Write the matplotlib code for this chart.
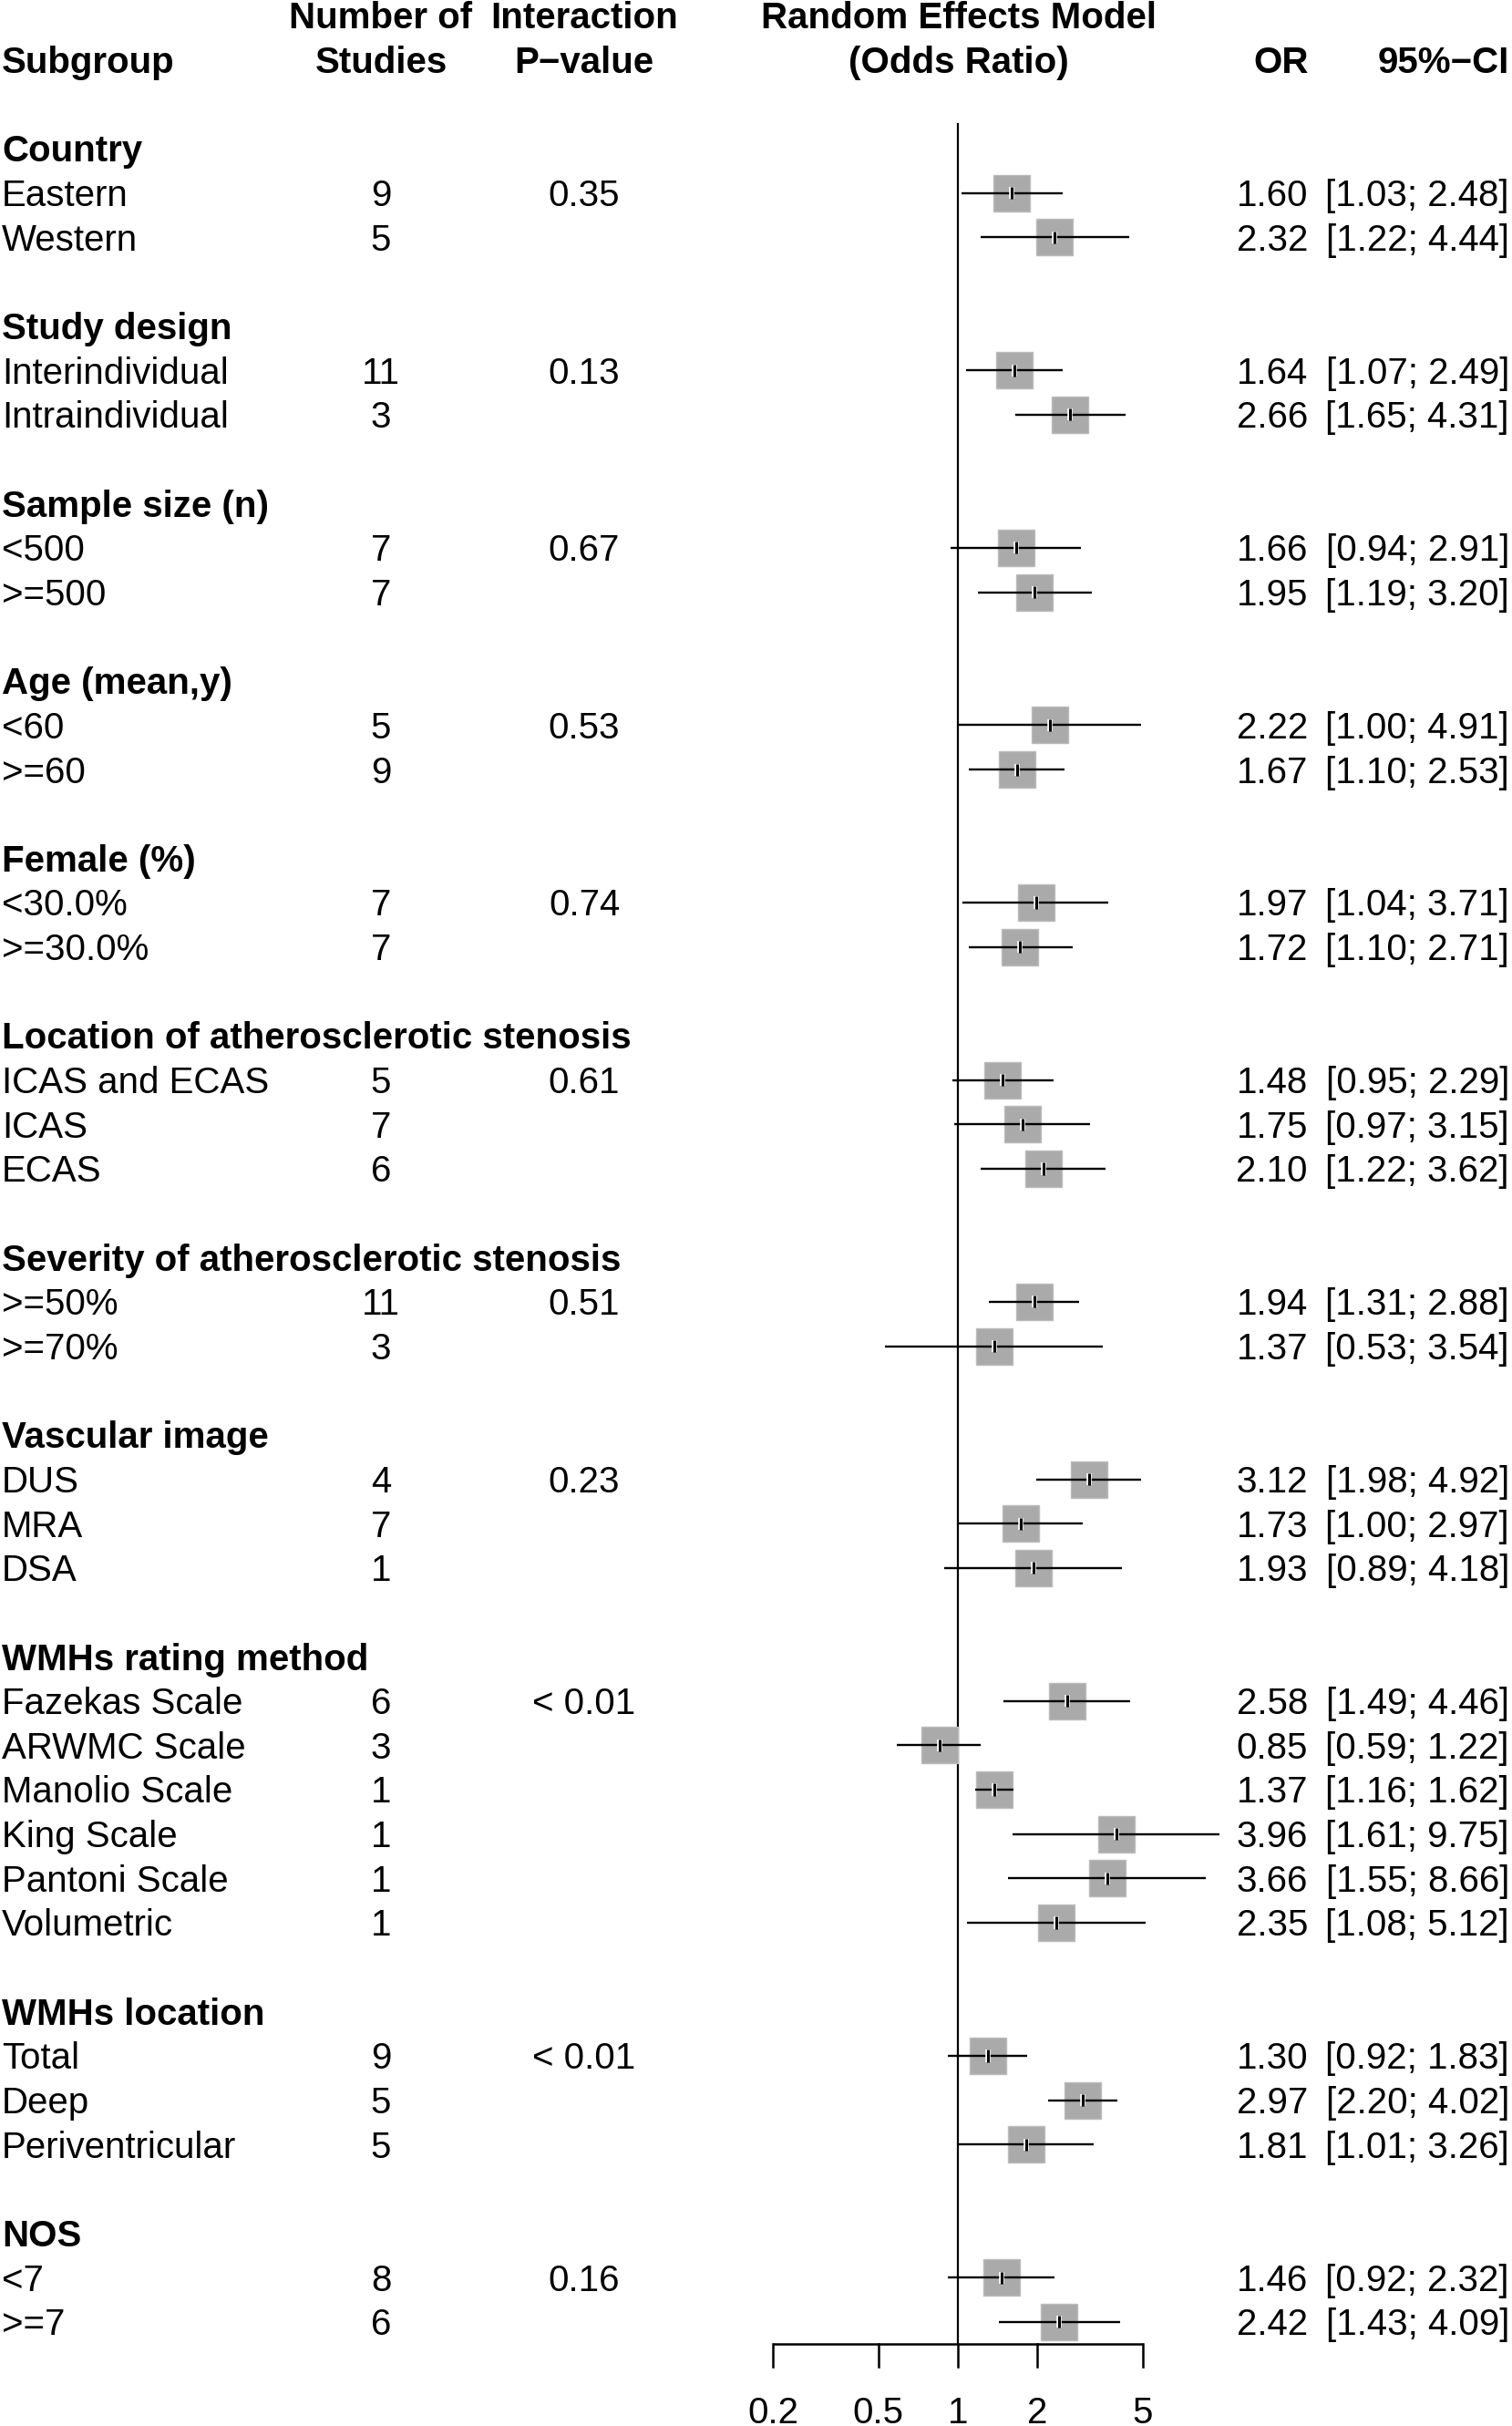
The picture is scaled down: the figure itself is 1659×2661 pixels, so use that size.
#!/usr/bin/env python3
import numpy as np
import matplotlib.pyplot as plt
import matplotlib.patheffects as pe

# ====== CONFIG ======
OUT_PATH = "out.png"
W_PX, H_PX = 1659, 2661
DPI = 100
FS = 29                   # font size (pt)
ROW0_PX = 163             # pixel y of first row (Country)
ROW_PX = 48.65            # pixel height of a row
X_LO_PX, X_HI_PX = 848, 1254   # pixel x of 0.2 and 5 on the log axis
FONT = ["Liberation Sans", "DejaVu Sans"]
# =====================

# -------- data --------
groups = [
    "Country", "Study design", "Sample size (n)", "Age (mean,y)", "Female (%)",
    "Location of atherosclerotic stenosis", "Severity of atherosclerotic stenosis",
    "Vascular image", "WMHs rating method", "WMHs location", "NOS",
]
group_pvalues = ["0.35", "0.13", "0.67", "0.53", "0.74", "0.61", "0.51",
                 "0.23", "< 0.01", "< 0.01", "0.16"]
subgroups = [
    ["Eastern", "Western"],
    ["Interindividual", "Intraindividual"],
    ["<500", ">=500"],
    ["<60", ">=60"],
    ["<30.0%", ">=30.0%"],
    ["ICAS and ECAS", "ICAS", "ECAS"],
    [">=50%", ">=70%"],
    ["DUS", "MRA", "DSA"],
    ["Fazekas Scale", "ARWMC Scale", "Manolio Scale", "King Scale",
     "Pantoni Scale", "Volumetric"],
    ["Total", "Deep", "Periventricular"],
    ["<7", ">=7"],
]
n_studies = [
    [9, 5], [11, 3], [7, 7], [5, 9], [7, 7], [5, 7, 6], [11, 3], [4, 7, 1],
    [6, 3, 1, 1, 1, 1], [9, 5, 5], [8, 6],
]
odds_ratio = [
    [1.60, 2.32], [1.64, 2.66], [1.66, 1.95], [2.22, 1.67], [1.97, 1.72],
    [1.48, 1.75, 2.10], [1.94, 1.37], [3.12, 1.73, 1.93],
    [2.58, 0.85, 1.37, 3.96, 3.66, 2.35], [1.30, 2.97, 1.81], [1.46, 2.42],
]
ci_lower = [
    [1.03, 1.22], [1.07, 1.65], [0.94, 1.19], [1.00, 1.10], [1.04, 1.10],
    [0.95, 0.97, 1.22], [1.31, 0.53], [1.98, 1.00, 0.89],
    [1.49, 0.59, 1.16, 1.61, 1.55, 1.08], [0.92, 2.20, 1.01], [0.92, 1.43],
]
ci_upper = [
    [2.48, 4.44], [2.49, 4.31], [2.91, 3.20], [4.91, 2.53], [3.71, 2.71],
    [2.29, 3.15, 3.62], [2.88, 3.54], [4.92, 2.97, 4.18],
    [4.46, 1.22, 1.62, 9.75, 8.66, 5.12], [1.83, 4.02, 3.26], [2.32, 4.09],
]
x_ticks = [0.2, 0.5, 1, 2, 5]
x_ticklabels = ["0.2", "0.5", "1", "2", "5"]


def row_limits():
    # rows grow downward; map the whole figure height to row units
    top = (0 - ROW0_PX) / ROW_PX
    bottom = (H_PX - ROW0_PX) / ROW_PX
    return bottom, top


def main():
    plt.rcParams["font.family"] = FONT
    fig = plt.figure(figsize=(W_PX / DPI, H_PX / DPI), dpi=DPI)

    # text layer: x in pixels, y in rows
    ax_t = fig.add_axes([0, 0, 1, 1])
    ax_t.set_xlim(0, W_PX)
    ax_t.set_ylim(*row_limits())
    ax_t.axis("off")

    # forest layer: log x, same rows
    ax_f = fig.add_axes([X_LO_PX / W_PX, 0, (X_HI_PX - X_LO_PX) / W_PX, 1])
    ax_f.set_xscale("log")
    ax_f.set_xlim(x_ticks[0], x_ticks[-1])
    ax_f.set_ylim(*row_limits())
    ax_f.axis("off")

    # baseline offset so the cap height is centred on the row
    dy = 0.716 * FS / 72 * DPI / ROW_PX / 2

    def txt(x, row, s, ha="left", bold=False):
        ax_t.text(x, row + dy, s, ha=ha, va="baseline", fontsize=FS,
                  fontweight="bold" if bold else "normal", color="black")

    # header
    txt(2, -2, "Subgroup", bold=True)
    txt(418, -3, "Number of", ha="center", bold=True)
    txt(418, -2, "Studies", ha="center", bold=True)
    txt(641, -3, "Interaction", ha="center", bold=True)
    txt(641, -2, "P\u2212value", ha="center", bold=True)
    txt(1052, -3, "Random Effects Model", ha="center", bold=True)
    txt(1052, -2, "(Odds Ratio)", ha="center", bold=True)
    txt(1436, -2, "OR", ha="right", bold=True)
    txt(1656, -2, "95%\u2212CI", ha="right", bold=True)

    row = 0
    for g, name in enumerate(groups):
        txt(2, row, name, bold=True)
        row += 1
        for k, sub in enumerate(subgroups[g]):
            orv, lo, hi = odds_ratio[g][k], ci_lower[g][k], ci_upper[g][k]
            txt(2, row, sub)
            txt(418, row, str(n_studies[g][k]), ha="center")
            if k == 0:
                txt(641, row, group_pvalues[g], ha="center")
            txt(1435, row, f"{orv:.2f}", ha="right")
            txt(1656, row, f"[{lo:.2f}; {hi:.2f}]", ha="right")

            ax_f.plot([orv], [row], marker="s", ms=28.5, mfc="#aaaaaa",
                      mec="#bcbcbc", mew=1.0, ls="none", clip_on=False, zorder=2)
            ax_f.plot([lo, hi], [row, row], color="black", lw=1.7,
                      solid_capstyle="butt", clip_on=False, zorder=3)
            ax_f.plot([orv], [row], marker="|", ms=9.5, mew=2.2, color="black",
                      ls="none", clip_on=False, zorder=4,
                      path_effects=[pe.withStroke(linewidth=4, foreground="white")])
            row += 1
        row += 1

    last_row = row - 2
    axis_row = last_row + 0.49

    # reference line at OR = 1
    ax_f.plot([1, 1], [-0.55, axis_row], color="black", lw=1.6, clip_on=False, zorder=1)

    # x axis drawn by hand (R style)
    ax_f.plot([x_ticks[0], x_ticks[-1]], [axis_row, axis_row], color="black",
              lw=1.8, solid_capstyle="butt", clip_on=False)
    for t, lab in zip(x_ticks, x_ticklabels):
        ax_f.plot([t, t], [axis_row, axis_row + 0.52], color="black", lw=1.8,
                  clip_on=False)
        ax_f.text(t, axis_row + 1.5 + dy, lab, ha="center", va="baseline",
                  fontsize=FS)

    fig.savefig(OUT_PATH, dpi=DPI, facecolor="white")
    plt.close(fig)
    print(f"Saved figure to {OUT_PATH}")


if __name__ == "__main__":
    main()
